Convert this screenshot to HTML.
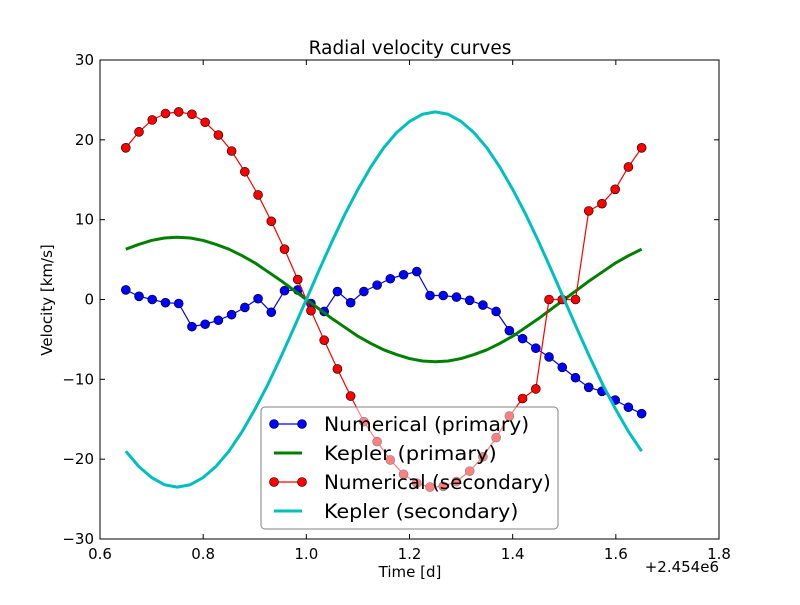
<!DOCTYPE html>
<html><head><meta charset="utf-8"><style>
body{margin:0;background:#fff;width:800px;height:600px;overflow:hidden}
svg{font-family:"DejaVu Sans","Liberation Sans",sans-serif}
</style></head><body>
<svg id="chart" width="800" height="600">
<rect x="0" y="0" width="800" height="600" fill="#fff"/>
<text x="410" y="54" font-size="18.5" text-anchor="middle">Radial velocity curves</text>
<g id="plot"></g>
<text x="410" y="577" font-size="15" text-anchor="middle">Time [d]</text>
<text x="52" y="300" font-size="15" text-anchor="middle" transform="rotate(-90 52 300)">Velocity [km/s]</text>
<text x="719" y="572" font-size="15" text-anchor="end">+2.454e6</text>
</svg>
<script>
const numTimes = [];
for (let i = 0; i < 40; i++) numTimes.push(0.65 + i / 39);
const primaryNum = [1.2,0.4,0,-0.4,-0.5,-3.4,-3.1,-2.6,-1.9,-1.0,0.1,-1.6,1.1,1.2,-0.5,-1.5,1.0,-0.4,1.0,1.8,2.6,3.1,3.5,0.5,0.5,0.3,-0.1,-0.7,-1.5,-3.9,-4.9,-6.1,-7.2,-8.5,-9.8,-11.0,-11.5,-12.6,-13.5,-14.3];
const secondaryNum = [19.0,21.0,22.5,23.3,23.5,23.2,22.2,20.6,18.6,16.0,13.1,9.8,6.3,2.5,-1.4,-5.1,-8.7,-12.1,-15.3,-17.8,-20.1,-21.9,-23.0,-23.5,-23.4,-22.8,-21.5,-19.7,-17.3,-14.6,-12.4,-11.2,0,0,0,11.1,12.0,13.8,16.6,19.0];
const kepTimes = [];
for (let i = 0; i < 41; i++) kepTimes.push(0.65 + i * 0.025);
const primaryKep = [6.3,6.9,7.4,7.7,7.8,7.7,7.4,6.9,6.3,5.5,4.6,3.5,2.4,1.2,0,-1.2,-2.4,-3.5,-4.6,-5.5,-6.3,-6.9,-7.4,-7.7,-7.8,-7.7,-7.4,-6.9,-6.3,-5.5,-4.6,-3.5,-2.4,-1.2,0,1.2,2.4,3.5,4.6,5.5,6.3];
const secondaryKep = [-19.0,-20.9,-22.3,-23.2,-23.5,-23.2,-22.3,-20.9,-19.0,-16.6,-13.8,-10.7,-7.3,-3.7,0,3.7,7.3,10.7,13.8,16.6,19.0,20.9,22.3,23.2,23.5,23.2,22.3,20.9,19.0,16.6,13.8,10.7,7.3,3.7,0,-3.7,-7.3,-10.7,-13.8,-16.6,-19.0];
const xTicks = [0.6,0.8,1.0,1.2,1.4,1.6,1.8];
const xTickLabels = ["0.6","0.8","1.0","1.2","1.4","1.6","1.8"];
const yTicks = [-30,-20,-10,0,10,20,30];
const yTickLabels = ["−30","−20","−10","0","10","20","30"];

const L=100,R=719,T=60,B=539;
const xs = v => L + (v-0.6)/1.2*(R-L);
const ys = v => B - (v+30)/60*(B-T);
const NS="http://www.w3.org/2000/svg";
const g=document.getElementById('plot');
function mk(tag,attrs,parent){const e=document.createElementNS(NS,tag);for(const k in attrs)e.setAttribute(k,attrs[k]);(parent||g).appendChild(e);return e;}

function line(times, vals, color, w, name){
  const p=mk('polyline',{points:times.map((t,i)=>xs(t)+','+ys(vals[i])).join(' '),fill:'none',stroke:color,'stroke-width':w,'stroke-linejoin':'round'});
  
  
}
function markers(times, vals, color, name){
  times.forEach((t,i)=>{
    const c=mk('circle',{cx:xs(t),cy:ys(vals[i]),r:4.5,fill:color,stroke:'#000','stroke-width':0.6});
    
    
  });
}
line(numTimes, primaryNum, '#0000ff', 1.2, 'primary-numerical-line');
markers(numTimes, primaryNum, '#0000ff', 'primary-numerical-point');
line(kepTimes, primaryKep, '#008000', 3, 'primary-kepler-line');
line(numTimes, secondaryNum, '#ff0000', 1.2, 'secondary-numerical-line');
markers(numTimes, secondaryNum, '#ff0000', 'secondary-numerical-point');
line(kepTimes, secondaryKep, '#00bfbf', 3, 'secondary-kepler-line');

const fr=mk('rect',{x:L,y:T,width:R-L,height:B-T,fill:'none',stroke:'#000','stroke-width':1});


xTicks.forEach((v,i)=>{
  const x=xs(v);
  mk('line',{x1:x,y1:B,x2:x,y2:B-5,stroke:'#000'});
  mk('line',{x1:x,y1:T,x2:x,y2:T+5,stroke:'#000'});
  const t=mk('text',{x:x,y:B+20,'font-size':15,'text-anchor':'middle'});
  t.textContent=xTickLabels[i];
  
  
});
yTicks.forEach((v,i)=>{
  const y=ys(v);
  mk('line',{x1:L,y1:y,x2:L+5,y2:y,stroke:'#000'});
  mk('line',{x1:R,y1:y,x2:R-5,y2:y,stroke:'#000'});
  const t=mk('text',{x:L-6,y:y+5,'font-size':15,'text-anchor':'end'});
  t.textContent=yTickLabels[i];
  
  
});

const lg=mk('g',{});


mk('rect',{x:261,y:407,width:297,height:122,rx:4,fill:'#fff','fill-opacity':0.5,stroke:'#808080','stroke-width':1},lg);
const entries=[["Numerical (primary)","#0000ff",1.2,true],["Kepler (primary)","#008000",3,false],["Numerical (secondary)","#ff0000",1.2,true],["Kepler (secondary)","#00bfbf",3,false]];
entries.forEach((e,i)=>{
  const y=424+i*29;
  const eg=mk('g',{},lg);
  
  
  mk('line',{x1:274,y1:y,x2:302,y2:y,stroke:e[1],'stroke-width':e[2]},eg);
  if(e[3]){mk('circle',{cx:274,cy:y,r:4.5,fill:e[1],stroke:'#000','stroke-width':0.6},eg);mk('circle',{cx:302,cy:y,r:4.5,fill:e[1],stroke:'#000','stroke-width':0.6},eg);}
  const t=mk('text',{x:324,y:y+7,'font-size':19.5,textLength:e[0].length*10.8,'lengthAdjust':'spacingAndGlyphs'},eg);
  t.textContent=e[0];
});
</script>
</body></html>
